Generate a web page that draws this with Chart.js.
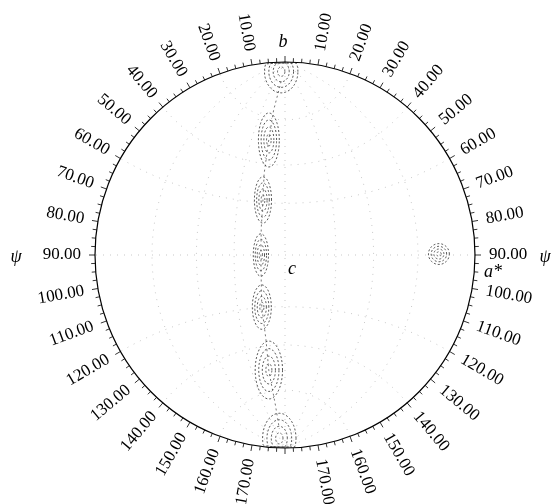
<!DOCTYPE html>
<html>
<head>
<meta charset="utf-8">
<script src="https://cdn.jsdelivr.net/npm/chart.js@4"></script>
<style>
  body { margin: 0; background: #fff; }
</style>
</head>
<body>
<canvas id="grafico" width="551" height="504"></canvas>
<script>
// valores (coordenadas da projecao, disco de raio 1)
const picoX = [-0.02, -0.085, -0.116, -0.127, -0.122, -0.085, -0.03, 0.81];
const picoY = [0.95, 0.596, 0.285, 0.0, -0.27, -0.596, -0.95, 0.005];
const picoLarg = [0.088, 0.055, 0.045, 0.04, 0.05, 0.072, 0.088, 0.055];
const picoAlt = [0.11, 0.14, 0.12, 0.11, 0.115, 0.15, 0.13, 0.054];
const niveis = [1, 0.74, 0.48, 0.22];

// linha tracejada que liga os picos (crista)
const cristaX = [-0.02, -0.06, -0.085, -0.11, -0.116, -0.125, -0.127, -0.125, -0.122, -0.1, -0.085, -0.05, -0.03];
const cristaY = [0.9, 0.75, 0.6, 0.42, 0.285, 0.14, 0.0, -0.14, -0.27, -0.44, -0.6, -0.78, -0.9];

// rotulos do aro (psi)
const angulosRotulo = [10, 20, 30, 40, 50, 60, 70, 80, 90, 100, 110, 120, 130, 140, 150, 160, 170];
const passoGrade = [20, 40, 60, 90, 120, 140, 160];

// monta os contornos de cada pico
const datasets = [];
picoX.forEach((cx, i) => {
  niveis.forEach(n => {
    const pts = [];
    for (let k = 0; k <= 48; k++) {
      const a = k / 48 * Math.PI * 2;
      let u = cx + picoLarg[i] * n * Math.cos(a);
      let v = picoY[i] + picoAlt[i] * n * Math.sin(a);
      const r = Math.hypot(u, v);
      if (r > 0.995) { u = u / r * 0.995; v = v / r * 0.995; } // corta no aro
      pts.push({ x: u, y: v });
    }
    datasets.push({
      data: pts,
      showLine: true,
      pointRadius: 0,
      borderColor: "#444",
      borderWidth: 0.9,
      borderDash: [2, 2],
      tension: 0
    });
  });
});

datasets.push({
  data: cristaX.map((x, i) => ({ x, y: cristaY[i] })),
  showLine: true,
  pointRadius: 0,
  borderColor: "#666",
  borderWidth: 0.9,
  borderDash: [2, 3]
});

const pluginAro = {
  id: "aro",
  beforeDatasetsDraw(chart) {
    const { ctx, scales: { x, y } } = chart;
    ctx.save();
    ctx.strokeStyle = "rgba(0,0,0,0.22)";
    ctx.lineWidth = 1;
    ctx.setLineDash([1, 6]);
    // meridianos e paralelos da projecao estereografica
    const proj = (t, f) => {
      const X = Math.sin(t) * Math.cos(f), Y = Math.cos(t), Z = Math.sin(t) * Math.sin(f);
      return [x.getPixelForValue(X / (1 + Z)), y.getPixelForValue(Y / (1 + Z))];
    };
    passoGrade.forEach(g => {
      const gr = g * Math.PI / 180;
      ctx.beginPath();
      for (let d = 0; d <= 180; d += 3) {
        const [a, b] = proj(d * Math.PI / 180, gr);
        d === 0 ? ctx.moveTo(a, b) : ctx.lineTo(a, b);
      }
      ctx.stroke();
      ctx.beginPath();
      for (let d = 0; d <= 180; d += 3) {
        const [a, b] = proj(gr, d * Math.PI / 180);
        d === 0 ? ctx.moveTo(a, b) : ctx.lineTo(a, b);
      }
      ctx.stroke();
    });
    ctx.restore();
  },
  afterDatasetsDraw(chart) {
    const { ctx, scales: { x, y } } = chart;
    const cx = x.getPixelForValue(0), cy = y.getPixelForValue(0);
    const rx = x.getPixelForValue(1) - cx, ry = cy - y.getPixelForValue(1);
    ctx.save();
    ctx.strokeStyle = "#000";
    ctx.lineWidth = 1.2;
    ctx.beginPath();
    ctx.ellipse(cx, cy, rx, ry, 0, 0, Math.PI * 2);
    ctx.stroke();

    // marcas a cada 2.5 graus
    ctx.lineWidth = 0.8;
    for (let a = 0; a < 360; a += 2.5) {
      const r = a * Math.PI / 180;
      const s = Math.sin(r), c = Math.cos(r);
      const px = cx + rx * s, py = cy - ry * c;
      const len = a % 10 === 0 ? 6 : 4;
      ctx.beginPath();
      ctx.moveTo(px, py);
      ctx.lineTo(px + s * len, py - c * len);
      ctx.stroke();
    }

    // rotulos dos dois lados
    ctx.fillStyle = "#000";
    ctx.font = "17px 'Liberation Serif', 'Times New Roman', serif";
    ctx.textBaseline = "middle";
    angulosRotulo.forEach(t => {
      const r = t * Math.PI / 180;
      const s = Math.sin(r), c = Math.cos(r);
      const off = 14;
      // esquerda
      ctx.save();
      ctx.translate(cx - (rx + off) * s, cy - (ry + off) * c);
      ctx.rotate((90 - t) * Math.PI / 180);
      ctx.textAlign = "right";
      ctx.fillText(t.toFixed(2), 0, 0);
      ctx.restore();
      // direita
      ctx.save();
      ctx.translate(cx + (rx + off) * s, cy - (ry + off) * c);
      ctx.rotate((t - 90) * Math.PI / 180);
      ctx.textAlign = "left";
      ctx.fillText(t.toFixed(2), 0, 0);
      ctx.restore();
    });

    ctx.font = "italic 18px 'Liberation Serif', 'Times New Roman', serif";
    ctx.textAlign = "center";
    ctx.fillText("b", cx - 2, cy - ry - 20);
    ctx.fillText("c", cx + 7, cy + 14);
    ctx.fillText("a*", cx + rx + 18, cy + 17);
    ctx.fillText("\u03c8", 16, cy + 2);
    ctx.fillText("\u03c8", 545, cy + 2);
    ctx.restore();
  }
};

function desenhar() {
  new Chart(document.getElementById("grafico"), {
    type: "scatter",
    data: { datasets },
    options: {
      responsive: false,
      animation: false,
      layout: { padding: { left: 95, right: 76, top: 62, bottom: 56 } },
      plugins: { legend: { display: false }, tooltip: { enabled: false } },
      scales: {
        x: { type: "linear", min: -1, max: 1, display: false },
        y: { type: "linear", min: -1, max: 1, display: false }
      }
    },
    plugins: [pluginAro]
  });
}

// garante a fonte serifada antes de desenhar
Promise.all([
  document.fonts.load("17px 'Liberation Serif'"),
  document.fonts.load("italic 18px 'Liberation Serif'")
]).then(desenhar, desenhar);
</script>
</body>
</html>
